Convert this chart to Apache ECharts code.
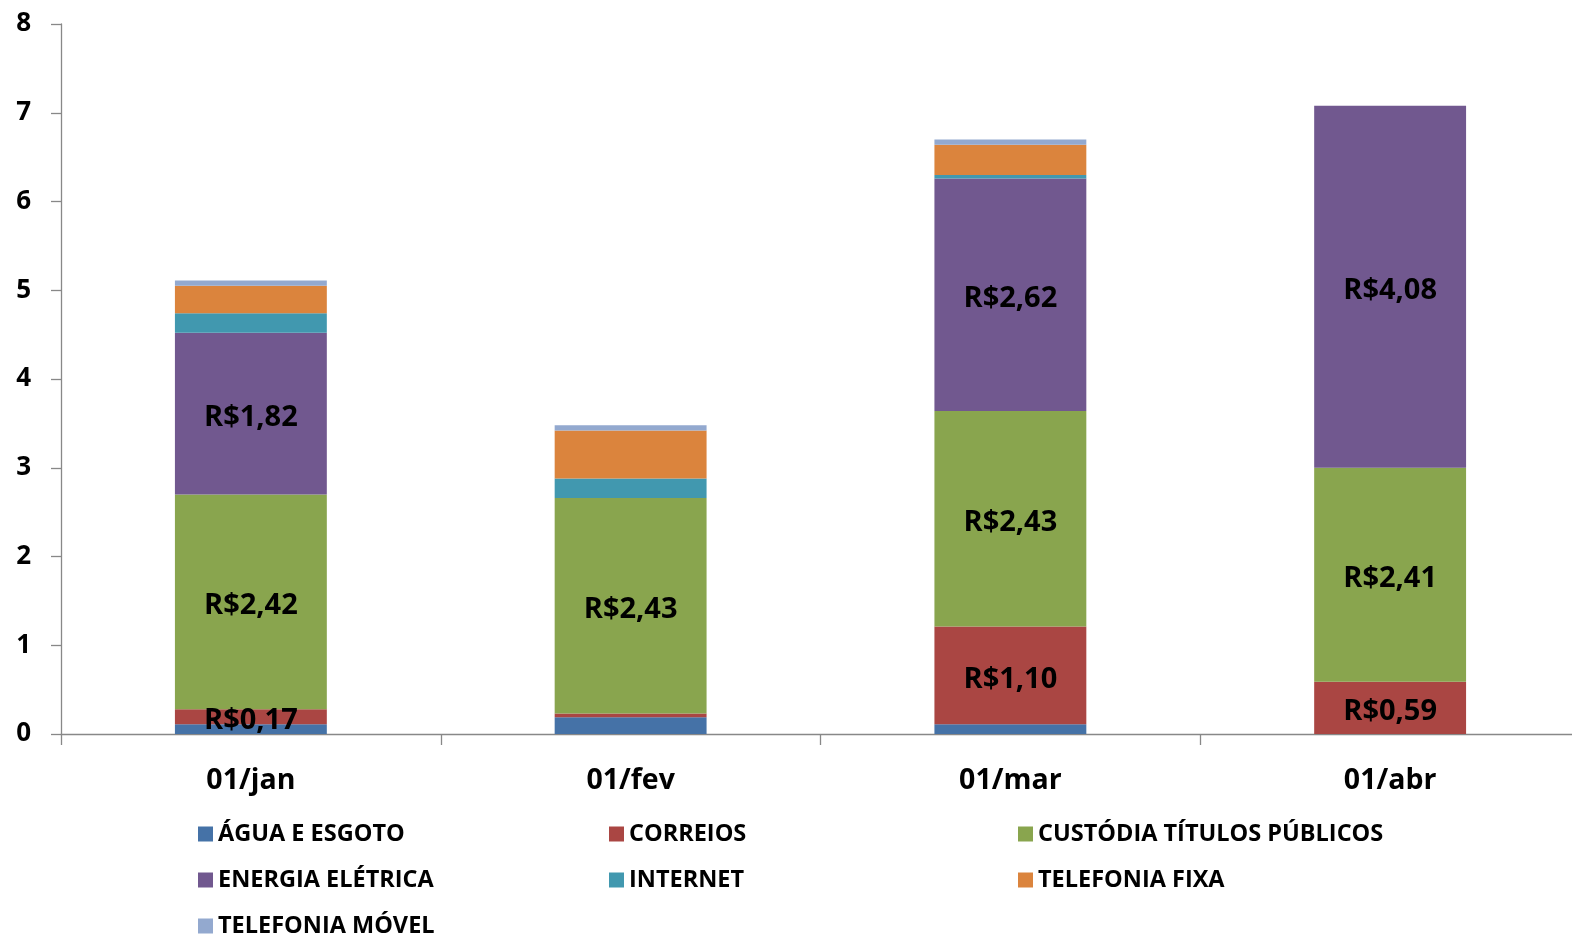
<!DOCTYPE html>
<html>
<head>
<meta charset="utf-8">
<script src="https://cdn.jsdelivr.net/npm/echarts@6/dist/echarts.min.js"></script>
<style>
html,body{margin:0;padding:0;background:#fff;overflow:hidden;}
#c{width:1580px;height:934px;}
</style>
</head>
<body>
<div id="c"></div>
<script>
const categories = ['01/jan', '01/fev', '01/mar', '01/abr'];
const yTicks = [0, 1, 2, 3, 4, 5, 6, 7, 8];
const seriesNames = ['ÁGUA E ESGOTO', 'CORREIOS', 'CUSTÓDIA TÍTULOS PÚBLICOS', 'ENERGIA ELÉTRICA', 'INTERNET', 'TELEFONIA FIXA', 'TELEFONIA MÓVEL'];
const agua = [0.11, 0.19, 0.11, 0];
const correios = [0.17, 0.04, 1.10, 0.59];
const custodia = [2.42, 2.43, 2.43, 2.41];
const energia = [1.82, 0, 2.62, 4.08];
const internet = [0.22, 0.22, 0.04, 0];
const telFixa = [0.31, 0.54, 0.34, 0];
const telMovel = [0.06, 0.06, 0.06, 0];

const colors = ['#4572A7', '#AA4643', '#89A54E', '#71588F', '#4198AF', '#DB843D', '#93A9CF'];
const values = [agua, correios, custodia, energia, internet, telFixa, telMovel];
const labelled = [false, true, true, true, false, false, false];
const FONT = '"Open Sans", "Noto Sans", sans-serif';

const series = seriesNames.map((name, i) => ({
  name: name,
  type: 'bar',
  stack: 'total',
  barWidth: '40%',
  itemStyle: { color: colors[i] },
  label: {
    show: labelled[i],
    position: 'inside',
    offset: [0, 4],
    color: '#000',
    fontFamily: FONT,
    fontWeight: 'bold',
    fontSize: 29,
    formatter: p => (p.value >= 0.1 ? 'R$' + p.value.toFixed(2).replace('.', ',') : '')
  },
  data: values[i]
}));

// legend grid: [series index, left, top]
const legendPos = [[0, 198, 822], [1, 609, 822], [2, 1018, 822], [3, 198, 868], [4, 609, 868], [5, 1018, 868], [6, 198, 914]];
const legends = legendPos.map(([i, left, top]) => ({
  left: left,
  top: top,
  padding: 0,
  itemWidth: 15,
  itemHeight: 15,
  icon: 'rect',
  data: [seriesNames[i]],
  selectedMode: false,
  textStyle: { fontFamily: FONT, fontWeight: 'bold', fontSize: 23.5, color: '#000', lineHeight: 15 }
}));

const chart = echarts.init(document.getElementById('c'), null, { renderer: 'canvas' });
chart.setOption({
  animation: false,
  color: colors,
  grid: { left: 61, top: 24, bottom: 200, width: 1519, containLabel: false },
  legend: legends,
  xAxis: {
    type: 'category',
    data: categories,
    axisLine: { lineStyle: { color: '#888', width: 1.3 } },
    axisTick: { show: true, length: 11, lineStyle: { color: '#888', width: 1.3 } },
    axisLabel: { fontFamily: FONT, fontWeight: 'bold', fontSize: 28.5, color: '#000', margin: 32 }
  },
  yAxis: {
    type: 'value',
    min: yTicks[0],
    max: yTicks[yTicks.length - 1],
    interval: 1,
    splitLine: { show: false },
    axisLine: { show: true, lineStyle: { color: '#888', width: 1.3 } },
    axisTick: { show: true, length: 10, lineStyle: { color: '#888', width: 1.3 } },
    axisLabel: { fontFamily: FONT, fontWeight: 'bold', fontSize: 26, color: '#000', margin: 30 }
  },
  series: series
});
</script>
</body>
</html>
